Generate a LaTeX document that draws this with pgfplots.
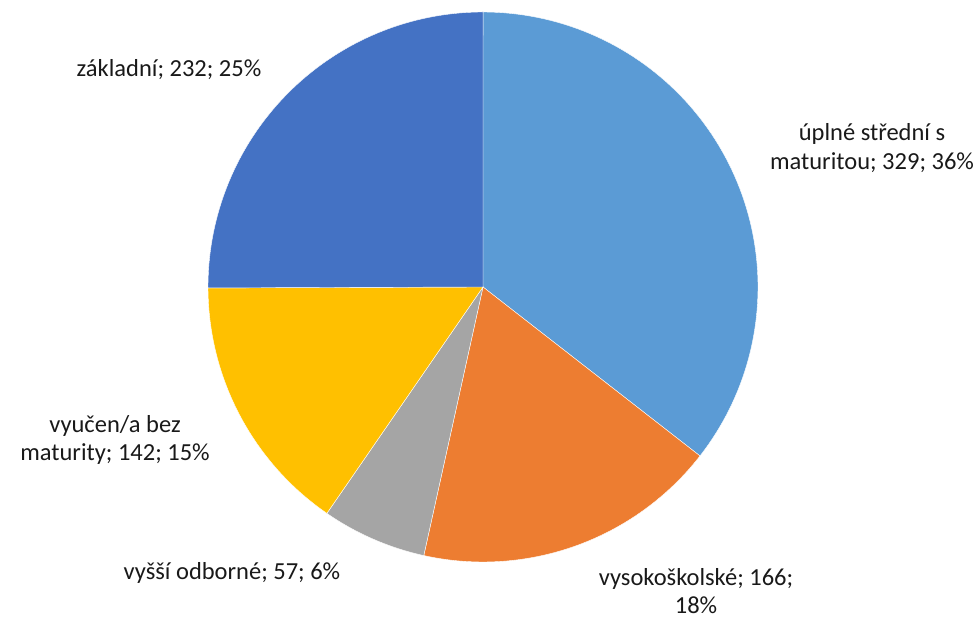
\documentclass[border=0pt]{standalone}
\usepackage{pgfplots}
\pgfplotsset{compat=1.18}
\usepackage{fontspec}
\setmainfont{Carlito}

\definecolor{cA}{HTML}{5B9BD5}
\definecolor{cB}{HTML}{ED7D31}
\definecolor{cC}{HTML}{A5A5A5}
\definecolor{cD}{HTML}{FFC000}
\definecolor{cE}{HTML}{4472C4}

% pie centre and radius in pixel units of the axis
\def\cx{483}
\def\cy{334}
\def\rr{275}
\def\total{926}

% \slice{cumulative start}{value}{colour}
\newcommand\slice[3]{%
  \pgfmathsetmacro\aend{90-(#1)/\total*360}%
  \pgfmathsetmacro\astart{90-(#1+#2)/\total*360}%
  \addplot[fill=#3, draw=white, line width=0.4pt, domain=\astart:\aend, samples=90]
    ({\cx+\rr*cos(x)},{\cy+\rr*sin(x)}) -- (axis cs:\cx,\cy) -- cycle;
}

\begin{document}
\begin{tikzpicture}
\begin{axis}[
    width=979bp, height=621bp,
    scale only axis,
    xmin=0, xmax=979, ymin=0, ymax=621,
    axis lines=none,
    clip=false,
  ]
  \path (axis cs:0,0) rectangle (axis cs:979,621);
  \slice{0}{329}{cA}
  \slice{329}{166}{cB}
  \slice{495}{57}{cC}
  \slice{552}{142}{cD}
  \slice{694}{232}{cE}

  \begin{scope}[every node/.style={font=\fontsize{24.5bp}{28.5bp}\selectfont, align=center, text=black!90, inner sep=0pt}]
    \node at (axis cs:872,473) {úplné střední s\\maturitou; 329; 36\%};
    \node at (axis cs:696,30) {vysokoškolské; 166;\\18\%};
    \node at (axis cs:232,48) {vyšší odborné; 57; 6\%};
    \node at (axis cs:115,181) {vyučen/a bez\\maturity; 142; 15\%};
    \node at (axis cs:169,551) {základní; 232; 25\%};
  \end{scope}
\end{axis}
\end{tikzpicture}
\end{document}
